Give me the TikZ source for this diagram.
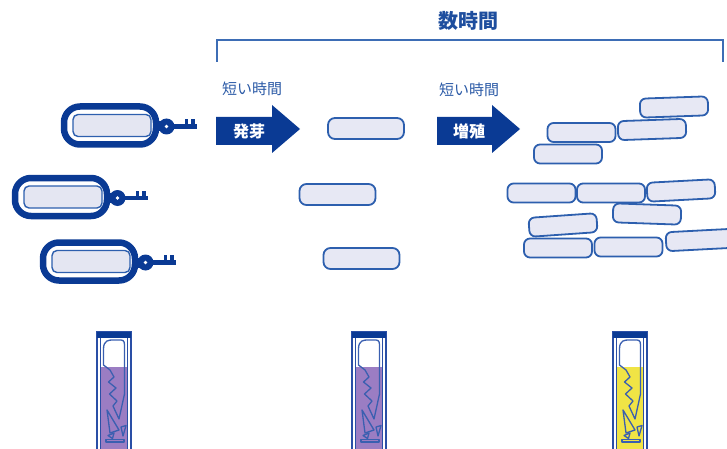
\documentclass[tikz,border=0pt]{standalone}
\usepackage{fontspec}
\newfontfamily\jp{Noto Sans CJK JP}
\definecolor{dblue}{RGB}{10,58,148}
\definecolor{titleblue}{RGB}{30,78,158}
\definecolor{lblblue}{RGB}{43,90,166}
\definecolor{rodline}{RGB}{45,95,174}
\definecolor{rodfill}{RGB}{231,232,244}
\definecolor{sporefill}{RGB}{228,230,242}
\definecolor{tubeline}{RGB}{42,79,166}
\definecolor{hookline}{RGB}{58,95,176}
\definecolor{liqpurple}{RGB}{155,125,195}
\definecolor{liqyellow}{RGB}{240,228,69}
\definecolor{bracketblue}{RGB}{61,109,181}

% test tube with a spore strip inside: #1 = top-left corner, #2 = liquid colour
\newcommand\testtube[2]{%
  \begin{scope}[shift={#1}]
    \fill[#2] (3.5,35) rectangle (30.5,125);
    \draw[tubeline,line width=0.9] (3.5,5) -- (3.5,125) (30.5,5) -- (30.5,125);
    \draw[tubeline,line width=1.5] (0,0) rectangle (34,125);
    \fill[dblue] (0,0) rectangle (34,5.5);
    \begin{scope}[hookline,line width=1.3,line join=round]
      \draw (6.5,33) -- (6.5,17) .. controls (6.5,8) and (12,8) .. (16,8)
        -- (24,8) .. controls (27.5,8) and (27.5,11) .. (27.5,15)
        -- (27.5,62) -- (22,87) -- (16,74) -- (20,69) -- (12.5,62) -- (19,56)
        -- (11.5,50) -- (17,45) -- (13,38) -- cycle;
      \draw (10,78) -- (22,98) -- (13,101) -- cycle;
      \draw (24,95) -- (29,93.5) -- (26,104) -- cycle;
      \draw (11,103.5) -- (17,101) -- (15.5,106.5) -- cycle;
      \draw (9,107.5) rectangle (27,110);
    \end{scope}
  \end{scope}}

\begin{document}
\begin{tikzpicture}[x=1pt,y=-1pt,
  spore/.pic={
    \draw[dblue,line width=6.5,rounded corners=16] (3,-19) rectangle (95,19);
    \draw[rodline,fill=sporefill,line width=1.4,rounded corners=5] (12,-11) rectangle (90,11);
    \fill[dblue] (93,-4) rectangle (102,6);
    \fill[dblue] (105.5,1) circle (8);
    \fill[white] (105.5,1) circle (1.9);
    \fill[dblue] (111,-1.2) rectangle (136,3.4);
    \fill[dblue] (123.5,-6.5) rectangle (127,0);
    \fill[dblue] (130,-6.5) rectangle (133.5,0);
  },
  rod/.style={draw=rodline,fill=rodfill,line width=1.8,rounded corners=7,
    minimum width=76,minimum height=21,inner sep=0},
  cell/.style={rod,rounded corners=6,minimum width=68,minimum height=19},
  lbl/.style={font=\jp\fontsize{15}{15}\selectfont,text=lblblue},
  arrowtext/.style={font=\jp\bfseries\fontsize{16}{16}\selectfont,text=white},
  bigarrow/.style={fill=dblue}]
\useasboundingbox (0,0) rectangle (727,449);

% time bracket across germination and growth
\draw[bracketblue,line width=1.4] (217,62) -- (217,40) -- (723,40) -- (723,62);
\node[font=\jp\bfseries\fontsize{20}{20}\selectfont,text=titleblue] (title) at (468,21) {数時間};

% spores
\pic at (61,125.5) {spore};
\pic at (12,197) {spore};
\pic at (40,261.5) {spore};

% germination arrow
\node[lbl] (t1) at (252,89) {短い時間};
\fill[bigarrow] (216,117) -- (272,117) -- (272,105) -- (300,129) -- (272,153) -- (272,145) -- (216,145) -- cycle;
\node[arrowtext] (a1) at (249,131) {発芽};

% germinated cells
\node[rod] (g1) at (366,128.5) {};
\node[rod] (g2) at (337.5,194.5) {};
\node[rod] (g3) at (361.5,258.5) {};

% growth arrow
\node[lbl] (t2) at (469,90) {短い時間};
\fill[bigarrow] (437,117) -- (492,117) -- (492,105) -- (520,129) -- (492,153) -- (492,145) -- (437,145) -- cycle;
\node[arrowtext] (a2) at (469,131) {増殖};

% multiplied cells
\node[cell,rotate=2] (c1) at (674,107) {};
\node[cell] (c2) at (581.5,132.5) {};
\node[cell,rotate=2] (c3) at (652,129.5) {};
\node[cell] (c4) at (568,154) {};
\node[cell] (c5) at (541.5,193) {};
\node[cell] (c6) at (611,193) {};
\node[cell,rotate=3] (c7) at (681,190.5) {};
\node[cell,rotate=-2] (c8) at (647,214) {};
\node[cell,rotate=4] (c9) at (563,225) {};
\node[cell] (c10) at (558,248) {};
\node[cell] (c11) at (628.5,247) {};
\node[cell,rotate=3] (c12) at (700,240) {};

% indicator tubes
\testtube{(97,332)}{liqpurple}
\testtube{(352,332)}{liqpurple}
\testtube{(613,332)}{liqyellow}
\end{tikzpicture}
\end{document}
